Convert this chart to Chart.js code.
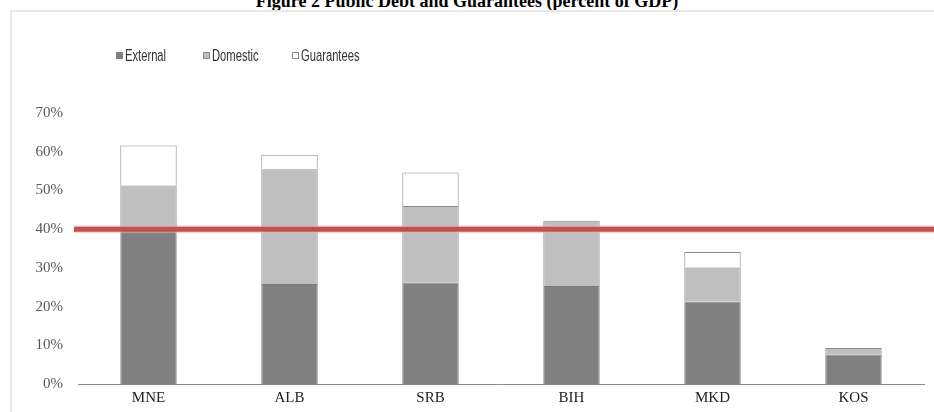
<!DOCTYPE html>
<html>
<head>
<meta charset="utf-8">
<script src="https://cdn.jsdelivr.net/npm/chart.js@4"></script>
<style>
  body { margin: 0; background: #fff; width: 934px; height: 412px; overflow: hidden; position: relative; }
  #title { position: absolute; left: 0; width: 934px; top: -9px; text-align: center;
           font: bold 18px "Liberation Serif", serif; color: #000; }
  #frame { position: absolute; left: 10px; top: 10px; width: 930px; height: 410px;
           border-left: 2px solid #e8e8e8; border-top: 2px solid #e8e8e8; }
  #wrap { position: absolute; left: 0; top: 0; width: 934px; height: 412px; }
  #legend { position: absolute; top: 47px; left: 116px; font: 16px "Liberation Sans", Arial, sans-serif; color: #333; }
  #legend span.item { position: absolute; white-space: nowrap; }
  #legend span.box { display: inline-block; width: 7px; height: 7px; margin-right: 2px; vertical-align: 2px; box-sizing: border-box; }
  #legend span.txt { display: inline-block; transform: scaleX(0.7); transform-origin: left center; }
</style>
</head>
<body>
<div id="title">Figure 2 Public Debt and Guarantees (percent of GDP)</div>
<div id="frame"></div>
<div id="wrap"><canvas id="chart" width="934" height="412"></canvas></div>
<div id="legend"></div>
<script>
const categories = ['MNE', 'ALB', 'SRB', 'BIH', 'MKD', 'KOS'];
const external = [39.5, 25.8, 26.2, 25.3, 21.3, 7.6];
const domestic = [11.8, 29.7, 19.8, 16.9, 8.8, 1.7];
const guarantees = [10.3, 3.7, 8.6, 0, 4.0, 0];
const yTicks = [0, 10, 20, 30, 40, 50, 60, 70];
const threshold = 40;

// red threshold line across the plot
const thresholdLine = {
    id: 'thresholdLine',
    afterDatasetsDraw(chart) {
        const ctx = chart.ctx;
        const y = chart.scales.y.getPixelForValue(threshold);
        ctx.save();
        ctx.strokeStyle = 'rgba(230,180,180,0.5)';
        ctx.lineWidth = 8;
        ctx.beginPath();
        ctx.moveTo(74, y);
        ctx.lineTo(chart.width, y);
        ctx.stroke();
        ctx.strokeStyle = '#c3504e';
        ctx.lineWidth = 5;
        ctx.beginPath();
        ctx.moveTo(74, y);
        ctx.lineTo(chart.width, y);
        ctx.stroke();
        ctx.restore();
    }
};

const chart = new Chart(document.getElementById('chart'), {
    type: 'bar',
    data: {
        labels: categories,
        datasets: [
            { label: 'External', data: external, backgroundColor: '#808080', borderColor: '#7a7a7a', borderWidth: 1 },
            { label: 'Domestic', data: domestic, backgroundColor: '#bfbfbf', borderColor: '#8c8c8c', borderWidth: 1 },
            { label: 'Guarantees', data: guarantees, backgroundColor: '#ffffff', borderColor: '#8c8c8c', borderWidth: 1 }
        ]
    },
    options: {
        responsive: false,
        animation: false,
        layout: { padding: { left: 12, right: 10, top: 113, bottom: 0 } },
        datasets: { bar: { barPercentage: 0.4, categoryPercentage: 1 } },
        plugins: { legend: { display: false }, tooltip: { enabled: false } },
        scales: {
            x: {
                stacked: true,
                grid: { display: false, drawTicks: false },
                border: { color: '#8c8c8c', width: 1 },
                ticks: { padding: 5, color: '#222', font: { family: 'Liberation Serif', size: 15 } },
                afterFit: s => { s.height = 28; }
            },
            y: {
                stacked: true,
                min: 0,
                max: 70,
                afterBuildTicks: s => { s.ticks = yTicks.map(v => ({ value: v })); },
                grid: { display: false, drawTicks: false },
                border: { display: false },
                ticks: { padding: 15, color: '#595959', font: { family: 'Liberation Serif', size: 15 },
                         callback: v => v + '%' },
                afterFit: s => { s.width = 66; }
            }
        }
    },
    plugins: [thresholdLine]
});

// legend built from the datasets
const legend = document.getElementById('legend');
const legendX = [0, 87, 176];
chart.data.datasets.forEach((ds, i) => {
    const item = document.createElement('span');
    item.className = 'item';
    item.style.left = legendX[i] + 'px';
    const box = document.createElement('span');
    box.className = 'box';
    box.style.background = ds.backgroundColor;
    box.style.border = i === 0 ? 'none' : '1px solid #8c8c8c';
    item.appendChild(box);
    const txt = document.createElement('span');
    txt.className = 'txt';
    txt.textContent = ds.label;
    item.appendChild(txt);
    legend.appendChild(item);
});
</script>
</body>
</html>
